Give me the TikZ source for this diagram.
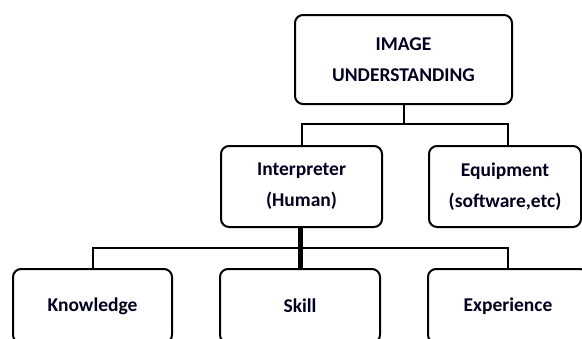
\documentclass[tikz,border=0pt]{standalone}
\usepackage{fontspec}
\setmainfont{Carlito}
\begin{document}
\begin{tikzpicture}[x=1pt,y=-1pt,
  box/.style={draw=black, line width=2pt, rounded corners=8pt, inner sep=0pt,
    align=center, font=\fontsize{19.5}{31}\selectfont\bfseries, text=black!88!blue},
  conn/.style={draw=black, line width=2pt},
  thick conn/.style={draw=black, line width=5pt}]
\useasboundingbox (0,0) rectangle (582,338);
\clip (0,0) rectangle (582,338);
\node[box, minimum width=217pt, minimum height=89pt] (top) at (403.5,59.5) {IMAGE\\UNDERSTANDING};
\node[box, minimum width=161pt, minimum height=81pt] (interp) at (301.5,186.5) {Interpreter\\(Human)};
\node[box, minimum width=152pt, minimum height=81pt] (equip) at (505,186.5) {Equipment\\(software,etc)};
\node[box, minimum width=159pt, minimum height=74pt] (know) at (92.5,306) {Knowledge};
\node[box, minimum width=160pt, minimum height=74pt] (skill) at (300,306) {Skill};
\node[box, minimum width=160pt, minimum height=74pt] (exper) at (508,306) {Experience};
\coordinate (bus1) at (404,124);
\coordinate (bus2) at (300,247.5);
\draw[conn] (top.south -| bus1) -- (bus1);
\draw[conn] (interp.north) |- (bus1) -| ([xshift=3pt]equip.north);
\draw[conn] (know.north) |- (bus2) -| (exper.north);
\draw[thick conn] (interp.south -| bus2) -- (skill.north -| bus2);
\end{tikzpicture}
\end{document}
